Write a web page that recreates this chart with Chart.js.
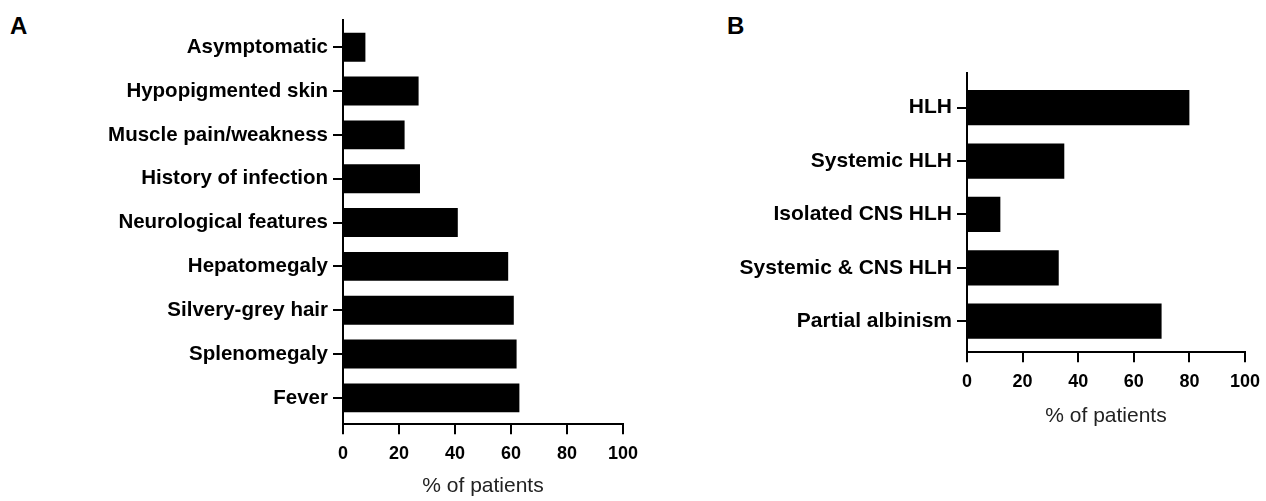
<!DOCTYPE html>
<html>
<head>
<meta charset="utf-8">
<script src="https://cdn.jsdelivr.net/npm/chart.js@4.4.0/dist/chart.umd.min.js"></script>
<style>
  html, body { margin: 0; padding: 0; background: #fff; }
  body { width: 1266px; height: 501px; position: relative; overflow: hidden; font-family: "Liberation Sans", Arial, sans-serif; }
  .panel-letter { position: absolute; font-weight: bold; font-size: 24px; line-height: 24px; color: #000; }
  .box { position: absolute; }
</style>
</head>
<body>
<div class="panel-letter" style="left:10px; top:14px;">A</div>
<div class="panel-letter" style="left:727px; top:14px;">B</div>
<div class="box" style="left:0; top:0; width:647px; height:500px;"><canvas id="chartA"></canvas></div>
<div class="box" style="left:640px; top:0; width:629px; height:430px;"><canvas id="chartB"></canvas></div>
<script>
// panel A: clinical features
const symptomLabels = ['Asymptomatic', 'Hypopigmented skin', 'Muscle pain/weakness', 'History of infection',
  'Neurological features', 'Hepatomegaly', 'Silvery-grey hair', 'Splenomegaly', 'Fever'];
const symptomPercent = [8, 27, 22, 27.5, 41, 59, 61, 62, 63];

// panel B: HLH / albinism
const hlhLabels = ['HLH', 'Systemic HLH', 'Isolated CNS HLH', 'Systemic & CNS HLH', 'Partial albinism'];
const hlhPercent = [80, 35, 12, 33, 70];

const xTickValues = [0, 20, 40, 60, 80, 100];
const axisTitle = '% of patients';

const fontFamily = '"Liberation Sans", Arial, sans-serif';

// rows sit on a linear axis (index 0..n-1) so the gap above the first / below the last bar can match
const makeConfig = (labels, values, opts) => ({
  type: 'bar',
  data: {
    datasets: [{
      data: values.map((v, i) => ({ x: v, y: i })),
      backgroundColor: '#000',
      borderWidth: 0,
      barPercentage: 0.66,
      categoryPercentage: 1,
    }],
  },
  options: {
    indexAxis: 'y',
    responsive: true,
    maintainAspectRatio: false,
    animation: false,
    layout: { padding: opts.padding },
    plugins: { legend: { display: false }, tooltip: { enabled: false } },
    scales: {
      x: {
        type: 'linear',
        min: 0,
        max: 100,
        afterBuildTicks: (scale) => {
          scale.ticks = xTickValues.map((v) => ({ value: v }));
        },
        border: { display: true, color: '#000', width: 2 },
        grid: { drawOnChartArea: false, drawTicks: true, tickLength: 10, color: '#000', lineWidth: 2 },
        ticks: { color: '#000', padding: 9, font: { family: fontFamily, size: 18, weight: 'bold' }, maxRotation: 0 },
        title: {
          display: true,
          text: axisTitle,
          color: '#222',
          padding: { top: opts.titleGap, bottom: 0 },
          font: { family: fontFamily, size: 21 },
        },
      },
      y: {
        type: 'linear',
        reverse: true,
        offset: false,
        min: opts.yMin,
        max: opts.yMax,
        afterBuildTicks: (scale) => {
          scale.ticks = labels.map((_, i) => ({ value: i }));
        },
        afterFit: (scale) => { scale.width = opts.yWidth; },
        border: { display: true, color: '#000', width: 2 },
        grid: { offset: false, drawOnChartArea: false, drawTicks: true, tickLength: 10, color: '#000', lineWidth: 2 },
        ticks: {
          color: '#000',
          padding: 5,
          autoSkip: false,
          font: { family: fontFamily, size: opts.labelSize, weight: 'bold' },
          callback: (value) => labels[value],
        },
      },
    },
  },
});

new Chart(document.getElementById('chartA'), makeConfig(symptomLabels, symptomPercent, {
  yWidth: 343, yMin: -0.62, yMax: 8.6, labelSize: 20.5, titleGap: 0, padding: { top: 20, right: 17, bottom: 1, left: 0 },
}));
new Chart(document.getElementById('chartB'), makeConfig(hlhLabels, hlhPercent, {
  yWidth: 327, yMin: -0.65, yMax: 4.58, labelSize: 21, titleGap: 2, padding: { top: 73, right: 21, bottom: 1, left: 0 },
}));
</script>
</body>
</html>
